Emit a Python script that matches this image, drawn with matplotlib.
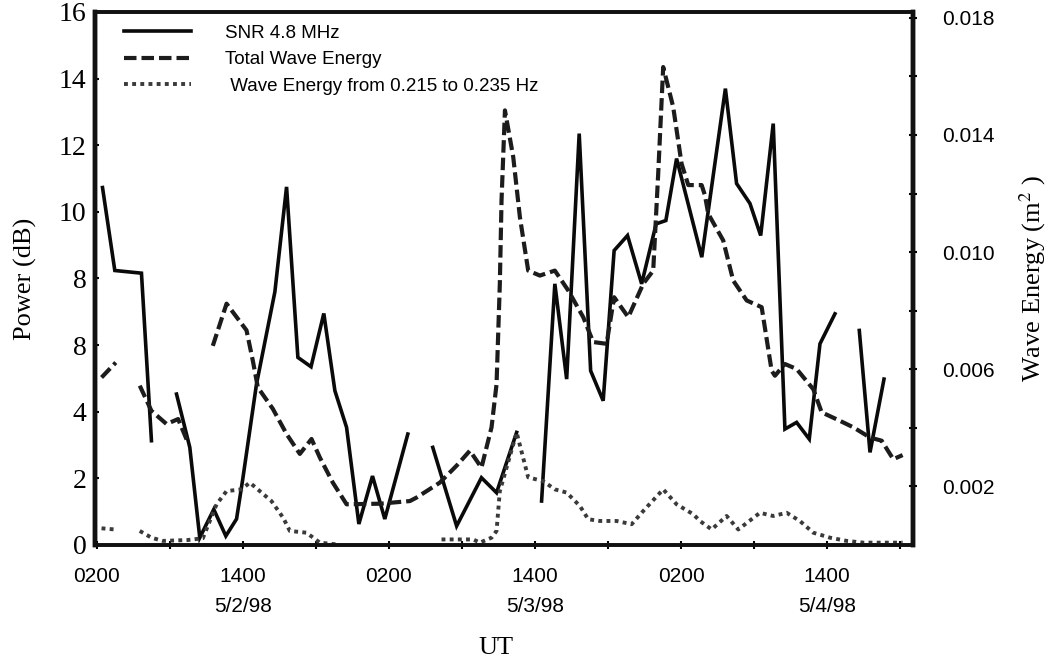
import numpy as np
import matplotlib
matplotlib.use("Agg")
import matplotlib.pyplot as plt
from matplotlib.ticker import FixedLocator, FixedFormatter

nan = np.nan

# hours after 0200 UT on 5/2/98 ; NaN marks a gap in the record
snr_hours = [0.47, 1.48, 3.67, 4.49, nan,
             6.55, 7.64, 8.46, 9.61, 10.6, 11.48, 12.0, 13.12, 14.63, 15.59,
             16.52, 17.6, 18.65, 19.56, 20.52, 21.53, 22.65, 23.66, 25.55, nan,
             27.6, 29.56, 31.6, 32.84, 34.49, nan,
             36.54, 37.63, 38.6, 39.63, 40.57, 41.6, 42.5, 43.6, 44.76, 45.95,
             46.75, 47.63, 49.7, 51.64, 52.56, 53.66, 54.54, 55.57, 56.53,
             57.49, 58.53, 59.41, 60.64, nan,
             62.64, 63.52, 64.67]
snr_db = [10.73, 8.24, 8.16, 3.13, nan,
          4.53, 2.93, 0.22, 1.07, 0.27, 0.78, 2.0, 4.83, 7.6, 10.75,
          5.63, 5.35, 6.95, 4.63, 3.53, 0.63, 2.07, 0.78, 3.33, nan,
          2.93, 0.57, 2.02, 1.57, 3.38, nan,
          1.32, 7.84, 4.98, 12.35, 5.23, 4.33, 8.84, 9.29, 7.84, 9.64,
          9.74, 11.6, 8.64, 13.7, 10.85, 10.25, 9.29, 12.65, 3.48,
          3.68, 3.18, 6.04, 6.94, nan,
          6.44, 2.78, 4.98]

total_hours = [0.39, 1.56, nan,
               3.53, 4.49, 5.73, 6.68, 7.4, nan,
               9.53, 10.66, 12.3, 12.82, 13.23, 14.46, 15.59, 16.68, 17.64,
               18.32, 19.39, 20.52, 23.25, 25.72, 26.27, 28.18, 29.56, 30.65,
               31.6, 32.43, 32.84, 33.11, 33.25, 33.53, 34.21, 34.76, 35.44,
               36.4, 37.63, 38.73, 39.96, 40.78, 41.88, 42.5, 43.66, 44.89,
               45.71, 46.12, 46.53, 47.35, 48.04, 48.59, 49.69, 49.96, 50.23,
               51.46, 52.28, 53.39, 54.62, 55.44, 55.71, 56.53, 57.49, 58.86,
               59.55, 61.05, 62.14, 63.52, 64.48, 65.43, 66.2]
total_energy = [0.00572, 0.00623, nan,
                0.00544, 0.00458, 0.00413, 0.00430, 0.00358, nan,
                0.00680, 0.00824, 0.00733, 0.00629, 0.00538, 0.00465, 0.00379,
                0.00311, 0.00362, 0.00299, 0.00213, 0.00139, 0.00141, 0.00150,
                0.00162, 0.00213, 0.00271, 0.00322, 0.00264, 0.00402, 0.00549,
                0.00892, 0.01177, 0.01484, 0.01325, 0.01119, 0.00937, 0.00920,
                0.00937, 0.00869, 0.00778, 0.00693, 0.00687, 0.00846, 0.00778,
                0.00892, 0.00937, 0.01268, 0.01632, 0.01496, 0.01302, 0.01229,
                0.01229, 0.01194, 0.01131, 0.01040, 0.00903, 0.00835, 0.00812,
                0.00595, 0.00578, 0.00618, 0.00601, 0.00532, 0.00453, 0.00424,
                0.00402, 0.00367, 0.00356, 0.00293, 0.00307]

band_hours = [0.39, 1.48, nan,
              3.53, 4.49, 5.42, 7.48, 8.71, 9.84, 10.66, 11.89, 12.57, 13.39,
              14.35, 15.31, 15.86, 17.23, 18.32, 19.7, nan,
              28.32, 30.92, 31.47, 32.43, 32.84, 33.11, 34.49, 35.44, 36.67,
              37.63, 38.6, 39.69, 40.37, 41.33, 42.7, 43.94, 44.89, 46.53,
              47.63, 49.0, 49.55, 50.51, 51.74, 52.7, 54.48, 55.57, 56.67,
              57.76, 58.86, 60.23, 61.6, 62.97, 66.2]
band_energy = [0.00057, 0.00053, nan,
               0.00048, 0.00025, 0.00014, 0.00017, 0.00023, 0.00139, 0.00184,
               0.00190, 0.00213, 0.00184, 0.00150, 0.00093, 0.00048, 0.00042,
               0.00008, 0.00002, nan,
               0.00019, 0.00019, 0.00008, 0.00025, 0.00048, 0.00184, 0.00384,
               0.00231, 0.00218, 0.00190, 0.00179, 0.00133, 0.00088, 0.00082,
               0.00082, 0.00071, 0.00116, 0.00190, 0.00139, 0.00105, 0.00082,
               0.00053, 0.00099, 0.00053, 0.00110, 0.00099, 0.00110, 0.00082,
               0.00042, 0.00025, 0.00014, 0.00008, 0.00008]

x_ticks = [0, 12, 24, 36, 48, 60]
x_labels = ["0200", "1400\n5/2/98", "0200", "1400\n5/3/98", "0200", "1400\n5/4/98"]
left_ticks = [0, 2, 4, 6, 8, 10, 12, 14, 16]
left_labels = ["0", "2", "4", "8", "8", "10", "12", "14", "16"]
right_ticks = [0.002, 0.006, 0.010, 0.014, 0.018]
right_labels = ["0.002", "0.006", "0.010", "0.014", "0.018"]

SERIF = "Liberation Serif"
SANS = "Liberation Sans"
plt.rcParams["font.family"] = SANS
plt.rcParams["mathtext.fontset"] = "stix"

fig = plt.figure(figsize=(10.54, 6.59), dpi=100)
ax = fig.add_axes([0.0901, 0.1730, 0.7761, 0.8088])
ax2 = ax.twinx()

ln1, = ax.plot(snr_hours, snr_db, color="#0a0a0a", lw=2.6,
               solid_joinstyle="miter", label="SNR 4.8 MHz")
ln2, = ax2.plot(total_hours, total_energy, color="#1c1c1c", lw=3.0,
                linestyle=(0, (3.0, 1.2)), label="Total Wave Energy")
ln3, = ax2.plot(band_hours, band_energy, color="#3a3a3a", lw=2.8,
                linestyle=(0, (1.0, 1.1)),
                label=" Wave Energy from 0.215 to 0.235 Hz")

ax.set_xlim(-0.15, 67.05)
ax.set_ylim(0, 16)
ax2.set_ylim(0, 0.0182)

ax.xaxis.set_major_locator(FixedLocator(x_ticks))
ax.xaxis.set_major_formatter(FixedFormatter(x_labels))
ax.xaxis.set_minor_locator(FixedLocator([6, 18, 30, 42, 54, 66]))
ax.yaxis.set_major_locator(FixedLocator(left_ticks))
ax.yaxis.set_major_formatter(FixedFormatter(left_labels))
ax2.yaxis.set_major_locator(FixedLocator(right_ticks))
ax2.yaxis.set_major_formatter(FixedFormatter(right_labels))
ax2.yaxis.set_minor_locator(FixedLocator([0.004, 0.008, 0.012, 0.016]))

ax.tick_params(axis="x", which="both", direction="inout", length=6, width=1.5,
               pad=13, labelsize=15, top=False)
for lab in ax.get_xticklabels():
    lab.set_linespacing(1.75)
ax.tick_params(axis="y", direction="in", length=3, width=1.5, pad=6,
               labelsize=20, right=False)
for lab in ax.get_yticklabels():
    lab.set_fontfamily(SERIF)
ax2.tick_params(axis="y", which="both", direction="inout", length=6, width=1.5,
                pad=18, labelsize=15)

for a in (ax, ax2):
    for side in ("left", "right"):
        a.spines[side].set_linewidth(3.2)
    for side in ("top", "bottom"):
        a.spines[side].set_linewidth(2.6)
    for sp in a.spines.values():
        sp.set_color("#111111")

ax.set_ylabel("Power (dB)", fontfamily=SERIF, fontsize=19)
ax.yaxis.set_label_coords(-0.071, 0.5)
ax.set_xlabel("UT", fontfamily=SERIF, fontsize=19)
ax.xaxis.set_label_coords(0.49, -0.172)
ax2.set_ylabel("Wave Energy (m$^2$ )", fontfamily=SERIF, fontsize=19)
ax2.yaxis.set_label_coords(1.128, 0.5)

ax2.legend(handles=[ln1, ln2, ln3], loc="upper left", frameon=False,
           fontsize=13.5, handlelength=3.6, handletextpad=1.8,
           labelspacing=0.5, borderaxespad=0.1, bbox_to_anchor=(0.024, 0.994))

fig.savefig("out.png", dpi=100)
